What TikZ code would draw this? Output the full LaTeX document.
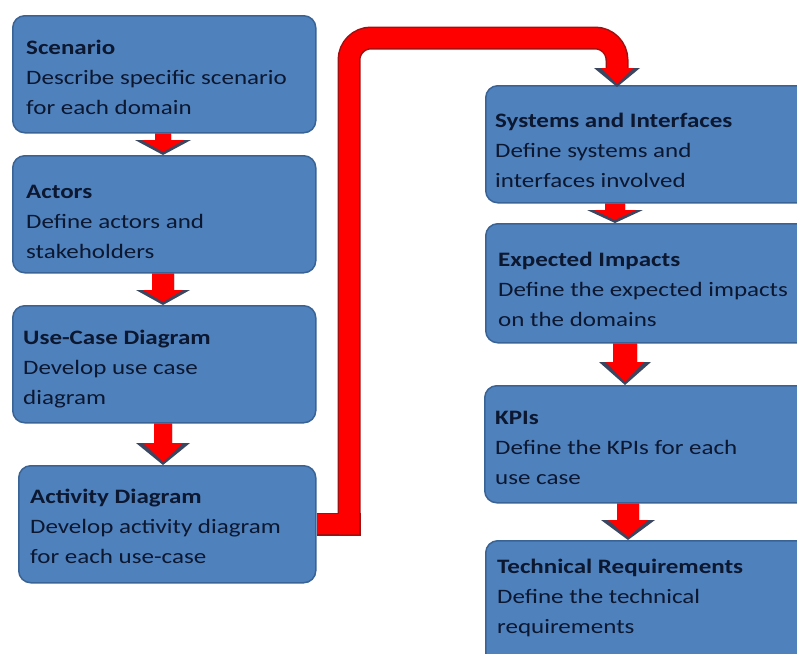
\documentclass[tikz,border=0pt]{standalone}
\usepackage{fontspec}
\setmainfont[FakeStretch=1.22]{Carlito}
\usetikzlibrary{calc}
\definecolor{boxfill}{HTML}{4F81BD}
\definecolor{boxline}{HTML}{3A6395}
\definecolor{txtcol}{HTML}{0C1730}
\definecolor{arred}{HTML}{FF0000}
\definecolor{arrdark}{HTML}{3B4660}
\definecolor{conndark}{HTML}{A01010}
\newcommand{\blockarrow}[5]{%
  \fill[arrdark] ($(#1)+(-#3,0)$) -- ($(#2)+(-#3,-#5)$) -- ($(#2)+(-#4,-#5)$) -- (#2) -- ($(#2)+(#4,-#5)$) -- ($(#2)+(#3,-#5)$) -- ($(#1)+(#3,0)$) -- cycle;
  \fill[arred] ($(#1)+(-#3,0)$) -- ($(#2)+(-#3,-#5)$) -- ($(#2)+(-#4+7,-#5)$) -- ($(#2)+(0,-3)$) -- ($(#2)+(#4-7,-#5)$) -- ($(#2)+(#3,-#5)$) -- ($(#1)+(#3,0)$) -- cycle;
}
\begin{document}
\begin{tikzpicture}[x=1pt,y=-1pt,
  box/.style={draw=boxline, line width=1.5pt, fill=boxfill, rounded corners=12pt, inner sep=0pt, anchor=north west},
  txt/.style={anchor=north west, inner sep=0pt, align=left, text=txtcol, font=\fontsize{20.5}{30}\selectfont},
  connd/.style={draw=conndark, line width=23pt},
  connr/.style={draw=arred, line width=20pt}]
\useasboundingbox (0,0) rectangle (797,653);
\clip (0,0) rectangle (797,653);
\fill[white] (0,0) rectangle (797,653);

% boxes
\node[box, minimum width=303pt, minimum height=117pt] (sc) at (12,15) {};
\node[box, minimum width=303pt, minimum height=117pt] (ac) at (12,155) {};
\node[box, minimum width=303pt, minimum height=117pt] (uc) at (12,305) {};
\node[box, minimum width=297pt, minimum height=117pt] (ad) at (18,465) {};
\node[box, minimum width=330pt, minimum height=117pt] (sys) at (485,85) {};
\node[box, minimum width=330pt, minimum height=119pt] (exp) at (485,223) {};
\node[box, minimum width=330pt, minimum height=117pt] (kpi) at (484,385) {};
\node[box, minimum width=330pt, minimum height=130pt] (tech) at (485,540) {};

% texts
\node[txt] (sct) at ($(sc.north west)+(14,18)$) {\strut\textbf{Scenario}\\Describe specific scenario\\for each domain};
\node[txt] (act) at ($(ac.north west)+(14,22)$) {\strut\textbf{Actors}\\Define actors and\\stakeholders};
\node[txt] (uct) at ($(uc.north west)+(11,18)$) {\strut\textbf{Use-Case Diagram}\\Develop use case\\diagram};
\node[txt] (adt) at ($(ad.north west)+(12,17)$) {\strut\textbf{Activity Diagram}\\Develop activity diagram\\for each use-case};
\node[txt] (syst) at ($(sys.north west)+(10,21)$) {\strut\textbf{Systems and Interfaces}\\Define systems and\\interfaces involved};
\node[txt] (expt) at ($(exp.north west)+(13,22)$) {\strut\textbf{Expected Impacts}\\Define the expected impacts\\on the domains};
\node[txt] (kpit) at ($(kpi.north west)+(11,18)$) {\strut\textbf{KPIs}\\Define the KPIs for each\\use case};
\node[txt] (techt) at ($(tech.north west)+(12,12)$) {\strut\textbf{Technical Requirements}\\Define the technical\\requirements};

% small block arrows
\coordinate (a1s) at ($(sc.south west)+(151,0)$);
\coordinate (a1e) at (a1s |- ac.north);
\coordinate (a2s) at ($(ac.south west)+(151,0)$);
\coordinate (a2e) at (a2s |- uc.north);
\coordinate (a3s) at ($(uc.south west)+(151,0)$);
\coordinate (a3e) at (a3s |- ad.north);
\coordinate (a4s) at ($(sys.south west)+(130,0)$);
\coordinate (a4e) at (a4s |- exp.north);
\coordinate (a5s) at ($(exp.south west)+(140,0)$);
\coordinate (a5e) at (a5s |- kpi.north);
\coordinate (a6s) at ($(kpi.south west)+(144,0)$);
\coordinate (a6e) at (a6s |- tech.north);
\blockarrow{a1s}{a1e}{8}{28}{15}
\blockarrow{a2s}{a2e}{11}{27}{15}
\blockarrow{a3s}{a3e}{9}{27}{22}
\blockarrow{a4s}{a4e}{10}{28}{13}
\blockarrow{a5s}{a5e}{12}{26}{23}
\blockarrow{a6s}{a6e}{11}{27}{20}

% big connector
\coordinate (c1) at (349,38);
\coordinate (cin) at ($(sys.north west)+(132,2)$);
\coordinate (chead) at ($(cin)+(0,-19)$);
\coordinate (cbot) at (ad.east -| c1);
\draw[connd] (ad.east) -- ($(cbot)+(11.5,0)$);
\draw[connd, rounded corners=22pt] ($(cbot)+(0,11.5)$) -- (c1) -- (c1 -| chead) -- (chead);
\draw[connr] (ad.east) -- ($(cbot)+(10,0)$);
\draw[connr, rounded corners=22pt] ($(cbot)+(0,10)$) -- (c1) -- (c1 -| chead) -- (chead);
\blockarrow{chead}{cin}{10}{23}{19}
\end{tikzpicture}
\end{document}
